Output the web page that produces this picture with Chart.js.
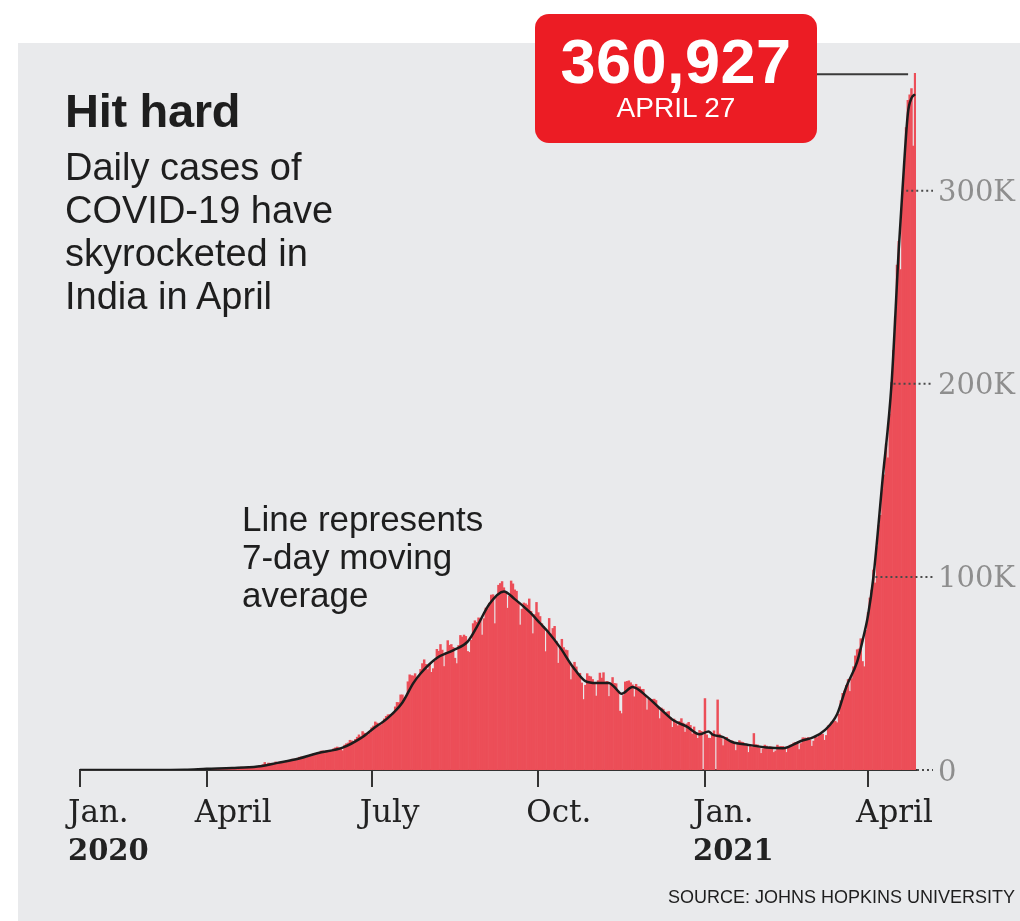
<!DOCTYPE html>
<html>
<head>
<meta charset="utf-8">
<script src="https://cdn.jsdelivr.net/npm/chart.js@4.4.1/dist/chart.umd.min.js"></script>
<style>
  html, body { margin: 0; padding: 0; background: #fff; }
  body { width: 1020px; height: 921px; position: relative; overflow: hidden; font-family: "Liberation Sans", Arial, sans-serif; color: #1e1e1e; }
  #panel { position: absolute; left: 18px; top: 43px; right: 0; bottom: 0; background: #e9eaec; }
  #grafico { position: absolute; left: 0; top: 0; }
  .txt { position: absolute; white-space: nowrap; }
  #titulo { left: 65px; top: 87px; font-size: 47px; line-height: 47px; font-weight: bold; letter-spacing: -0.3px; }
  #sub { left: 65px; top: 146px; font-size: 38px; line-height: 43px; }
  #nota { left: 242px; top: 500px; font-size: 35px; line-height: 38px; }
  #fonte { right: 5px; top: 888px; font-size: 18px; line-height: 18px; }
  #caixa { position: absolute; left: 535px; top: 14px; width: 282px; height: 129px; background: #ec1c24; border-radius: 14px; color: #fff; text-align: center; }
  #caixa .num { position: absolute; left: 0; right: 0; top: 16px; font-size: 63px; line-height: 62px; font-weight: bold; letter-spacing: 0.5px; }
  #caixa .dia { position: absolute; left: 0; right: 0; top: 80px; font-size: 28px; line-height: 28px; }
</style>
</head>
<body>
<div id="panel"></div>
<canvas id="grafico" width="1020" height="921"></canvas>
<div class="txt" id="titulo">Hit hard</div>
<div class="txt" id="sub">Daily cases of<br>COVID-19 have<br>skyrocketed in<br>India in April</div>
<div class="txt" id="nota">Line represents<br>7-day moving<br>average</div>
<div class="txt" id="fonte">SOURCE: JOHNS HOPKINS UNIVERSITY</div>
<div id="caixa"><div class="num">360,927</div><div class="dia">APRIL 27</div></div>
<script>
// ==========================================
// DAILY CASES (thousands), one array per month
// ==========================================
const jan2020 = [0,0,0,0,0,0,0,0,0.001,0];
const feb2020 = [0,0.001,0.001,0,0,0,0,0,0,0, 0,0,0,0,0,0,0,0,0,0, 0,0,0,0,0,0,0,0,0];
const mar2020 = [0,0.002,0,0.022,0.002,0.001,0.003,0.005,0.004,0.013, 0.006,0.017,0.01,0.02,0.011,0.019,0.023,0.034,0.054,0.066, 0.094,0.063,0.072,0.091,0.125,0.075,0.158,0.077,0.093,0.176, 0.282];
const apr2020 = [0.6,0.5,0.6,0.5,0.5,0.7,0.5,0.5,0.8,0.9, 0.8,0.9,0.9,1.2,1.0,0.9,1.3,1.0,1.3,1.5, 1.4,1.3,1.5,1.8,1.6,1.6,1.6,1.8,1.8,2.3];
const may2020 = [2.3,2.8,3.9,2.9,3.6,3.5,3.3,3.3,4.2,3.6, 3.5,3.7,3.9,3.8,4.8,5.0,4.6,5.6,5.6,5.6, 6.1,6.6,6.8,6.5,6.4,6.4,7.2,7.5,8.0,8.4, 8.2];
const jun2020 = [8.2,8.8,9.8,9.9,9.5,9.9,9.1,9.9,10.0,11.0, 11.5,11.9,11.5,11.1,10.0,12.9,13.6,14.0,15.4,15.1, 14.8,15.9,17.0,18.2,17.3,19.9,19.1,18.7,18.3,19.1];
const jul2020 = [21.9,22.8,24.9,24.3,22.5,23.1,24.9,26.5,27.8,28.6, 28.7,28.5,29.4,32.7,35.0,34.9,38.9,38.9,37.1,37.7, 45.7,49.3,48.9,48.7,49.9,47.7,48.5,52.1,55.1,57.1, 54.7];
const aug2020 = [52.0,54.7,50.6,52.5,56.3,62.5,61.5,65.0,62.1,53.6, 60.9,67.0,64.6,65.0,63.5,57.9,55.1,64.5,69.7,68.9, 69.9,69.2,61.4,60.9,67.2,75.8,77.3,76.5,78.8,78.5, 69.9];
const sep2020 = [78.4,83.9,83.3,86.4,90.6,90.8,75.8,89.7,95.7,96.6, 97.6,94.4,92.1,83.8,90.1,97.9,96.4,93.3,92.6,86.9, 75.1,83.3,86.5,86.1,85.4,88.6,82.2,70.6,80.5,86.8];
const oct2020 = [81.5,79.5,75.8,74.4,61.3,72.0,78.5,70.5,73.3,74.4, 66.7,55.3,63.5,67.7,63.4,62.2,61.9,55.7,46.8,54.0, 55.8,53.4,50.1,50.1,45.1,36.5,43.9,49.9,48.6,48.3, 46.9];
const nov2020 = [45.2,38.3,46.3,50.2,47.6,50.4,45.7,45.9,38.1,44.3, 47.9,44.9,44.7,41.1,30.5,29.2,38.6,45.6,45.9,46.2, 45.2,44.1,37.9,44.4,43.1,43.1,41.8,41.8,38.8,31.1];
const dec2020 = [36.6,35.6,36.6,36.7,36.0,32.9,26.6,32.1,31.5,29.4, 30.0,30.3,27.1,22.1,26.4,24.0,22.9,25.2,26.6,24.3, 19.6,23.9,24.7,23.1,18.7,22.3,18.7,16.4,20.5,20.0, 0];
const jan2021 = [37.0,18.2,16.5,16.4,18.1,20.3,0,36.3,18.6,16.3, 12.6,15.9,16.9,15.6,15.1,15.1,13.8,10.1,13.8,15.2, 14.5,14.3,13.2,13.2,9.1,12.7,11.7,18.9,13.1,13.0, 11.4];
const feb2021 = [8.6,11.0,12.9,12.4,11.7,12.1,11.8,9.1,9.9,12.9, 12.1,12.2,12.2,11.6,9.1,11.6,12.9,13.2,14.0,14.3, 14.2,10.6,13.7,16.7,16.6,16.5,16.8,15.5];
const mar2021 = [12.3,15.0,17.4,16.8,18.3,18.7,18.6,15.4,17.9,22.9, 23.3,24.9,24.9,25.3,24.5,28.9,35.9,39.7,40.9,43.8, 46.9,40.7,47.3,53.5,59.1,62.3,62.7,68.0,56.2,53.5, 72.3];
const apr2021 = [81.5,89.1,93.2,103.6,96.9,115.7,126.8,131.9,145.4,152.9, 168.9,161.7,184.4,200.7,217.4,234.7,261.5,273.8,259.2,295.0, 314.8,332.7,346.8,349.7,352.9,323.1,360.927];

// 7-day moving average (thousands)
const mediaDatas = ['2020-01-22','2020-03-01','2020-03-20','2020-04-01','2020-04-15','2020-04-29','2020-05-10','2020-05-22','2020-06-01','2020-06-15',
  '2020-06-25','2020-07-02','2020-07-10','2020-07-18','2020-07-24','2020-07-28','2020-08-06','2020-08-15','2020-08-23','2020-08-28',
  '2020-09-04','2020-09-12','2020-09-18','2020-09-26','2020-10-02','2020-10-06','2020-10-13','2020-10-20','2020-10-27','2020-11-02',
  '2020-11-09','2020-11-12','2020-11-16','2020-11-22','2020-11-30','2020-12-07','2020-12-15','2020-12-22','2020-12-29','2021-01-03',
  '2021-01-05','2021-01-11','2021-01-16','2021-01-25','2021-02-04','2021-02-13','2021-02-23','2021-03-02','2021-03-08','2021-03-15',
  '2021-03-20','2021-03-26','2021-03-29','2021-04-01','2021-04-04','2021-04-09','2021-04-14','2021-04-18','2021-04-20','2021-04-23',
  '2021-04-25','2021-04-27'];
const mediaValores = [0,0,0.1,0.6,1.0,1.8,3.7,6.0,8.7,11.6,
  16.5,21.5,27,35,45,50,58,62,66.5,74,
  86,92.5,88.5,82,76,72,63.5,53.5,46,45,
  45,43,39.5,43,38,32,25.5,22.5,18.5,20,
  18.5,17,14.5,13,11.7,11.3,15,17,20.5,29,
  43,56,67,80,100,150,200,270,300,340,
  348,350];

// axis ticks
const tickDatas = ['2020-01-22','2020-04-01','2020-07-01','2020-10-01','2021-01-01','2021-04-01'];
const tickMeses = ['Jan.','April','July','Oct.','Jan.','April'];
const tickAnos = ['2020','','','','2021',''];
const yTicks = [0, 100, 200, 300];
const yMax = 361;

// ==========================================
// building the points
// ==========================================
const inicio = Date.UTC(2020, 0, 22);
function diaDe(iso) {
    let [a, m, d] = iso.split('-').map(Number);
    return Math.round((Date.UTC(a, m - 1, d) - inicio) / 86400000);
}

const meses = [
    [2020, 0, 22, jan2020], [2020, 1, 1, feb2020], [2020, 2, 1, mar2020], [2020, 3, 1, apr2020],
    [2020, 4, 1, may2020], [2020, 5, 1, jun2020], [2020, 6, 1, jul2020], [2020, 7, 1, aug2020],
    [2020, 8, 1, sep2020], [2020, 9, 1, oct2020], [2020, 10, 1, nov2020], [2020, 11, 1, dec2020],
    [2021, 0, 1, jan2021], [2021, 1, 1, feb2021], [2021, 2, 1, mar2021], [2021, 3, 1, apr2021]
];

let barras = [];
meses.forEach(([ano, mes, dia0, vals]) => {
    vals.forEach((v, i) => {
        let dia = Math.round((Date.UTC(ano, mes, dia0 + i) - inicio) / 86400000);
        barras.push({ x: dia, y: v });
    });
});
let media = mediaDatas.map((d, i) => ({ x: diaDe(d), y: mediaValores[i] }));
let ultimoDia = barras[barras.length - 1].x;

const serif = '"DejaVu Serif", "Liberation Serif", serif';

// leaders, years and the callout line
const extras = {
    id: 'extras',
    afterDatasetsDraw(chart) {
        const { ctx, chartArea, scales: { x, y } } = chart;
        ctx.save();
        ctx.strokeStyle = '#4a4a4a';
        ctx.lineWidth = 2;
        ctx.setLineDash([2, 3]);
        yTicks.forEach(v => {
            let py = y.getPixelForValue(v);
            let x0 = chartArea.right + 1;
            if (v > 0) {
                let b = barras.find(p => p.y >= v);
                x0 = x.getPixelForValue(b.x) + 2;
            }
            ctx.beginPath();
            ctx.moveTo(x0, py);
            ctx.lineTo(chartArea.right + 17, py);
            ctx.stroke();
        });
        ctx.setLineDash([]);

        // line from the red box to the peak
        let pico = barras.reduce((a, b) => (b.y > a.y ? b : a));
        let caixa = document.getElementById('caixa');
        let py = y.getPixelForValue(pico.y) + 1;
        ctx.strokeStyle = '#3a3a3a';
        ctx.beginPath();
        ctx.moveTo(caixa.offsetLeft + caixa.offsetWidth, py);
        ctx.lineTo(x.getPixelForValue(pico.x) - 7, py);
        ctx.stroke();

        // years under the month labels
        ctx.fillStyle = '#222';
        ctx.font = 'bold 29px ' + serif;
        ctx.textBaseline = 'alphabetic';
        ctx.textAlign = 'left';
        tickDatas.forEach((d, i) => {
            if (tickAnos[i]) ctx.fillText(tickAnos[i], x.getPixelForValue(diaDe(d)) - 12, 860);
        });
        ctx.restore();
    }
};

new Chart(document.getElementById('grafico'), {
    data: {
        datasets: [
            {
                type: 'line',
                data: media,
                borderColor: '#1c1c1c',
                borderWidth: 2.5,
                pointRadius: 0,
                cubicInterpolationMode: 'monotone',
                fill: false
            },
            {
                type: 'bar',
                data: barras,
                backgroundColor: '#ec4e58',
                borderWidth: 0,
                barPercentage: 1,
                categoryPercentage: 1
            }
        ]
    },
    options: {
        responsive: false,
        animation: false,
        devicePixelRatio: 1,
        layout: { padding: { left: 80, top: 73, right: 0, bottom: 0 } },
        plugins: { legend: { display: false }, tooltip: { enabled: false } },
        scales: {
            x: {
                type: 'linear',
                min: 0,
                max: ultimoDia + 0.5,
                offset: false,
                afterBuildTicks: s => { s.ticks = tickDatas.map(d => ({ value: diaDe(d) })); },
                afterFit: s => { s.height = 151; s.paddingLeft = 0; s.paddingRight = 0; },
                grid: { display: true, drawOnChartArea: false, drawTicks: true, tickLength: 17, color: '#333', lineWidth: 2, offset: false },
                border: { display: true, color: '#333', width: 2 },
                ticks: {
                    autoSkip: false, maxRotation: 0, align: 'start', labelOffset: -12, padding: 8,
                    color: '#222', font: { family: serif, size: 31 },
                    callback: (v, i) => tickMeses[i]
                }
            },
            y: {
                position: 'right',
                min: 0,
                max: yMax,
                afterBuildTicks: s => { s.ticks = yTicks.map(v => ({ value: v })); },
                afterFit: s => { s.width = 104; s.paddingTop = 0; s.paddingBottom = 0; },
                grid: { display: false, drawTicks: false },
                border: { display: false },
                ticks: {
                    padding: 22, labelOffset: 3, color: '#8e8e8e', font: { family: serif, size: 29 },
                    callback: v => (v === 0 ? '0' : v + 'K')
                }
            }
        }
    },
    plugins: [extras]
});
</script>
</body>
</html>
